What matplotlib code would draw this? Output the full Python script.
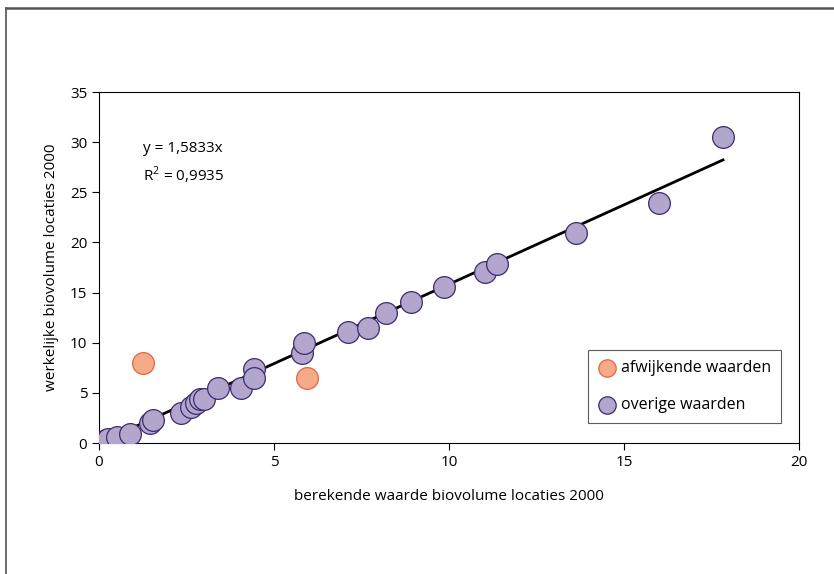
import matplotlib.pyplot as plt
from matplotlib.lines import Line2D

# berekende (x) en werkelijke (y) biovolume per locatie
x_overig = [0.2, 0.25, 0.51, 0.89, 1.46, 1.54, 2.34, 2.63, 2.77, 2.89, 3.0, 3.4,
            4.06, 4.43, 4.43, 5.8, 5.86, 7.11, 7.69, 8.2, 8.91, 9.86, 11.03, 11.37,
            13.63, 16.0, 17.83]
y_overig = [0.3, 0.4, 0.6, 0.9, 2.0, 2.3, 3.0, 3.6, 4.0, 4.4, 4.4, 5.5,
            5.5, 7.4, 6.5, 9.0, 10.0, 11.1, 11.5, 13.0, 14.1, 15.6, 17.1, 17.9,
            20.9, 23.9, 30.5]
x_afwijkend = [1.26, 5.94]
y_afwijkend = [8.0, 6.5]

slope = 1.5833
r2 = 0.9935
trend_x = [0.2, 17.83]

plt.rcParams["font.family"] = ["Open Sans", "DejaVu Sans"]
plt.rcParams["font.size"] = 11

fig = plt.figure(figsize=(8.34, 5.74), dpi=100)
ax = fig.add_axes([0.1187, 0.2282, 0.958 - 0.1187, 0.8397 - 0.2282])

# kader rond de figuur
fig.add_artist(Line2D([6 / 834, 6 / 834], [0, 1 - 8 / 574], transform=fig.transFigure,
                      color="#555555", lw=1.2))
fig.add_artist(Line2D([6 / 834, 1], [1 - 8 / 574, 1 - 8 / 574], transform=fig.transFigure,
                      color="#555555", lw=1.8))

ax.plot(trend_x, [slope * v for v in trend_x], color="black", lw=2, zorder=2)
ax.scatter(x_overig, y_overig, s=245, color="#b3a6cd", edgecolor="#3d2a72",
           lw=0.9, zorder=3, label="overige waarden")
ax.scatter(x_afwijkend, y_afwijkend, s=245, color="#f5aa88", edgecolor="#e2683f",
           lw=0.9, zorder=3, label="afwijkende waarden")

ax.text(1.25, 29.4, "y = 1,5833x", fontsize=11, va="center")
ax.text(1.25, 26.7, "R$^{\\mathregular{2}}$ = 0,9935", fontsize=11, va="center")

ax.set_xlim(0, 20)
ax.set_ylim(0, 35)
ax.set_xticks(range(0, 21, 5))
ax.set_yticks(range(0, 36, 5))
ax.tick_params(direction="out", length=5, width=0.8, labelsize=11)
for s in ax.spines.values():
    s.set_linewidth(0.8)

ax.set_xlabel("berekende waarde biovolume locaties 2000", fontsize=11, labelpad=14)
ax.set_ylabel("werkelijke biovolume locaties 2000", fontsize=11, labelpad=8)

handles, labels = ax.get_legend_handles_labels()
leg = ax.legend(handles[::-1], labels[::-1], loc="lower right",
                bbox_to_anchor=(0.974, 0.057), borderaxespad=0, fancybox=False,
                edgecolor="#333333", handletextpad=0.3, labelspacing=1.35,
                borderpad=0.6, fontsize=11.5, markerscale=0.8, handlelength=1.2)
leg.get_frame().set_linewidth(0.8)

fig.savefig("out.png", dpi=100)
